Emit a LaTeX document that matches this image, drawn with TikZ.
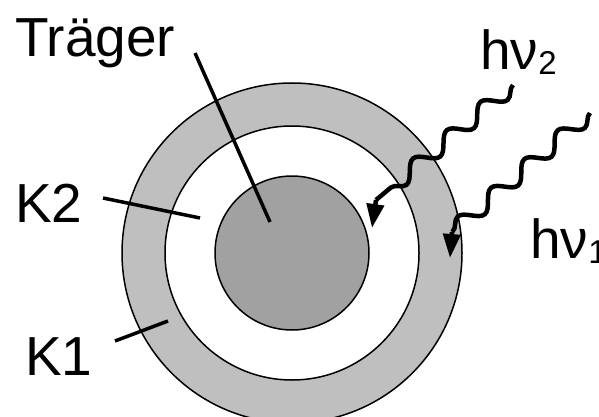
\documentclass[tikz,border=0pt]{standalone}
\usepackage{fontspec}
\setmainfont{Liberation Sans}
\usepackage{tikz}
\usetikzlibrary{decorations.pathmorphing, arrows.meta}

\tikzset{
  lbl/.style={inner sep=0pt, anchor=base west, font=\fontsize{55}{60}\selectfont},
  leader/.style={line width=3.5pt},
  rim/.style={line width=1.5pt},
  wave/.style={line width=4.5pt, decorate,
    decoration={snake, amplitude=8pt, segment length=44pt}},
  wavetip/.style={line width=4.5pt, -{Triangle[length=24pt, width=17pt]}}
}

\begin{document}
\begin{tikzpicture}[x=1pt, y=-1pt]
      \useasboundingbox (0,0) rectangle (599,417);
      % 1. Mittelpunkt und die drei Kreise
      \coordinate (M) at (292,253);
      \fill[gray!50!white, draw=black, rim] (M) circle (170);
      \fill[white, draw=black, rim] (M) circle (127);
      \fill[black!37, draw=black, rim] (M) circle (77);

      % 2. Beschriftungen
      \node[lbl] (Tr) at (15,57) {Träger};
      \node[lbl] (K2) at (15,222) {K2};
      \node[lbl] (K1) at (25,375) {K1};
      \node[lbl] (H2) at (480,70) {hν\raisebox{-5pt}{\fontsize{33}{36}\selectfont 2}};
      \node[lbl] (H1) at (530,258) {hν\raisebox{-5pt}{\fontsize{33}{36}\selectfont 1}};

      % 3. Hinweislinien
      \coordinate (Tra) at (195,53);
      \coordinate (Trb) at (270,222);
      \coordinate (K2a) at (103,198);
      \coordinate (K2b) at (200,218);
      \coordinate (K1a) at (115,341);
      \coordinate (K1b) at (168,321);
      \draw[leader] (Tra) -- (Trb);
      \draw[leader] (K2a) -- (K2b);
      \draw[leader] (K1a) -- (K1b);

      % 4. Photonen hv_2 und hv_1
      \coordinate (P2a) at (513,85);
      \coordinate (P2b) at (376,200);
      \coordinate (P2c) at (372,228);
      \coordinate (P1a) at (590,113);
      \coordinate (P1b) at (452,232);
      \coordinate (P1c) at (450,258);
      \draw[wave] (P2a) -- (P2b);
      \draw[wavetip] (P2b) -- (P2c);
      \draw[wave] (P1a) -- (P1b);
      \draw[wavetip] (P1b) -- (P1c);
\end{tikzpicture}
\end{document}
